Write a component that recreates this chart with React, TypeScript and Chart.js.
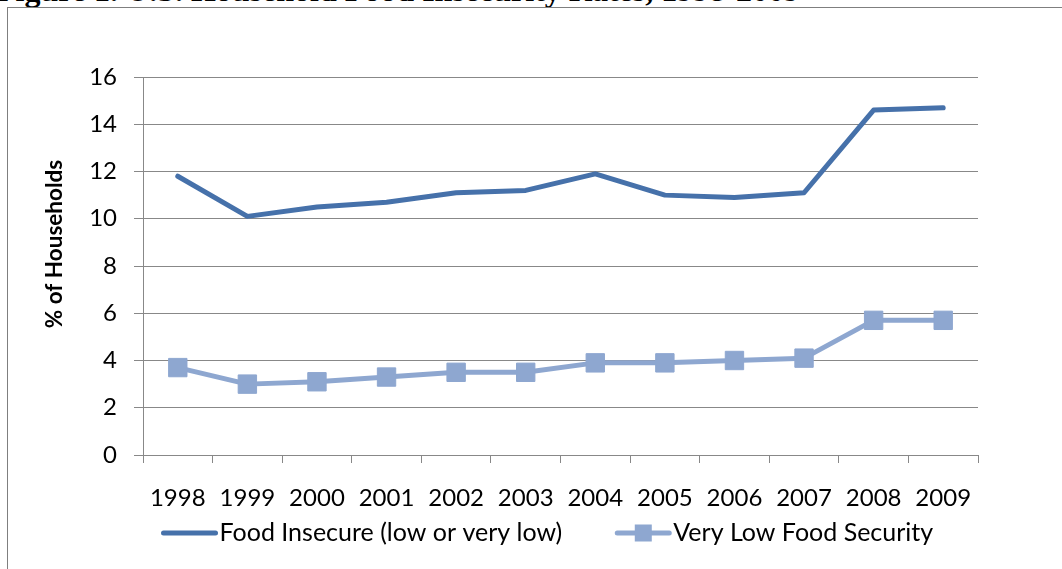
import { useEffect, useRef } from 'react';
import { Chart, registerables } from 'chart.js';

Chart.register(...registerables);

// Survey years and household rates (percent)
const years = ['1998', '1999', '2000', '2001', '2002', '2003', '2004', '2005', '2006', '2007', '2008', '2009'];
const foodInsecure = [11.8, 10.1, 10.5, 10.7, 11.1, 11.2, 11.9, 11.0, 10.9, 11.1, 14.6, 14.7];
const veryLowFoodSecurity = [3.7, 3.0, 3.1, 3.3, 3.5, 3.5, 3.9, 3.9, 4.0, 4.1, 5.7, 5.7];
const seriesLabels = ['Food Insecure (low or very low)', 'Very Low Food Security'];
const yTickValues = [0, 2, 4, 6, 8, 10, 12, 14, 16];
const yAxisTitle = '% of Households';
const caption = 'Figure 1. U.S. Household Food Insecurity Rates, 1998-2009';

const DARK = '#4671AA';
const LIGHT = '#8EA7D0';
const GRID = '#888888';
const FONT = 'Lato, "DejaVu Sans", sans-serif';

// Rotated axis title, placed slightly above the plot's vertical centre
const axisTitlePlugin = {
  id: 'axisTitle',
  afterDraw(chart: any) {
    const { ctx, chartArea } = chart;
    ctx.save();
    ctx.translate(55, (chartArea.top + chartArea.bottom) / 2 - 22);
    ctx.rotate(-Math.PI / 2);
    ctx.font = `bold 22.5px ${FONT}`;
    ctx.fillStyle = '#000';
    ctx.textAlign = 'center';
    ctx.textBaseline = 'middle';
    ctx.fillText(yAxisTitle, 0, 0);
    ctx.restore();
  },
};

// Legend with line swatches (and marker for series that have one)
const lineLegendPlugin = {
  id: 'lineLegend',
  afterDraw(chart: any) {
    const { ctx } = chart;
    const y = 533;
    const swatch = 52;
    let x = 163.5;
    ctx.save();
    ctx.font = `25px ${FONT}`;
    ctx.textBaseline = 'middle';
    ctx.textAlign = 'left';
    chart.data.datasets.forEach((ds: any) => {
      ctx.strokeStyle = ds.borderColor;
      ctx.lineWidth = 5;
      ctx.lineCap = 'round';
      ctx.beginPath();
      ctx.moveTo(x, y);
      ctx.lineTo(x + swatch, y);
      ctx.stroke();
      if (ds.pointRadius > 0) {
        const s = 17;
        ctx.fillStyle = ds.pointBackgroundColor;
        ctx.fillRect(x + swatch / 2 - s / 2, y - s / 2, s, s);
      }
      ctx.fillStyle = '#000';
      const tx = x + swatch + 4;
      ctx.fillText(ds.label, tx, y);
      x = tx + ctx.measureText(ds.label).width + 55;
    });
    ctx.restore();
  },
};

export default function App() {
  const canvasRef = useRef<HTMLCanvasElement | null>(null);

  useEffect(() => {
    if (!canvasRef.current) return;
    const chart = new Chart(canvasRef.current, {
      type: 'line',
      data: {
        labels: years,
        datasets: [
          {
            label: seriesLabels[0],
            data: foodInsecure,
            borderColor: DARK,
            backgroundColor: DARK,
            borderWidth: 5,
            pointRadius: 0,
            borderJoinStyle: 'round',
            borderCapStyle: 'round',
            tension: 0,
          },
          {
            label: seriesLabels[1],
            data: veryLowFoodSecurity,
            borderColor: LIGHT,
            backgroundColor: LIGHT,
            borderWidth: 5,
            pointStyle: 'rect',
            pointRadius: 13,
            pointBackgroundColor: LIGHT,
            pointBorderColor: LIGHT,
            pointBorderWidth: 1,
            borderJoinStyle: 'round',
            borderCapStyle: 'round',
            tension: 0,
          },
        ],
      },
      options: {
        animation: false,
        responsive: false,
        maintainAspectRatio: false,
        layout: { padding: { top: 77, right: 84, left: 0, bottom: 0 } },
        plugins: {
          legend: { display: false },
          tooltip: { enabled: false },
          title: { display: false },
        },
        scales: {
          x: {
            type: 'category',
            offset: true,
            grid: { offset: true, drawOnChartArea: false, tickLength: 8, color: GRID, lineWidth: 1 },
            border: { color: GRID, width: 1 },
            ticks: {
              color: '#000',
              font: { family: FONT, size: 24 },
              padding: 21,
              maxRotation: 0,
              autoSkip: false,
            },
            afterFit: (s: any) => {
              s.height = 114;
            },
          },
          y: {
            min: yTickValues[0],
            max: yTickValues[yTickValues.length - 1],
            afterBuildTicks: (s: any) => {
              s.ticks = yTickValues.map((v) => ({ value: v }));
            },
            ticks: { color: '#000', font: { family: FONT, size: 24 }, padding: 17 },
            grid: { color: GRID, lineWidth: 1, tickLength: 9 },
            border: { color: GRID, width: 1 },
            afterFit: (s: any) => {
              s.width = 143;
            },
          },
        },
      },
      plugins: [axisTitlePlugin, lineLegendPlugin],
    });
    return () => chart.destroy();
  }, []);

  return (
    <div style={{ position: 'fixed', inset: 0, overflow: 'hidden', background: '#fff' }}>
      <div
        style={{
          position: 'absolute',
          left: -4,
          top: -26,
          font: 'bold 32px "Liberation Serif", serif',
          lineHeight: '32px',
          whiteSpace: 'nowrap',
          color: '#000',
        }}
      >
        {caption}
      </div>
      <div
        style={{
          position: 'absolute',
          left: 7,
          top: 7,
          width: 1100,
          height: 600,
          border: '1px solid #7f7f7f',
        }}
      />
      <canvas
        ref={canvasRef}
        width={1062}
        height={569}
        style={{ position: 'absolute', left: 0, top: 0, display: 'block' }}
      />
    </div>
  );
}
